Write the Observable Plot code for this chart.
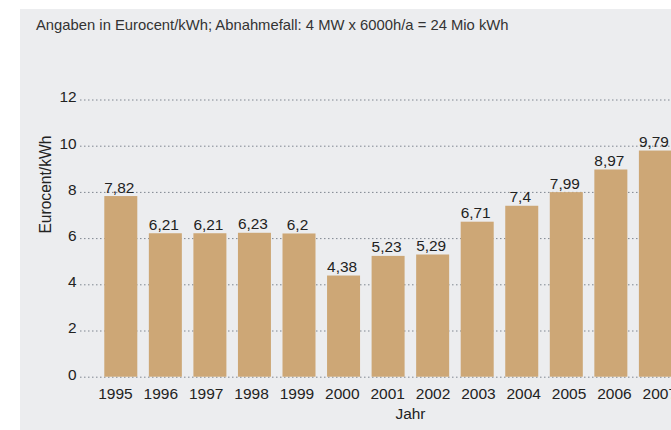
<!DOCTYPE html>
<html><head><meta charset="utf-8">
<script src="https://cdn.jsdelivr.net/npm/d3@7"></script>
<script src="https://cdn.jsdelivr.net/npm/@observablehq/plot@0.6"></script>
<style>
html,body{margin:0;padding:0;background:#fff;}
#wrap{position:relative;width:671px;height:430px;overflow:hidden;background:#fff;font-family:"Liberation Sans",Arial,sans-serif;}
#panel{position:absolute;left:20px;top:9px;right:0;bottom:0;background:#ecedef;}
#title{position:absolute;left:36px;top:18.2px;font-size:14.8px;line-height:14.8px;color:#333;white-space:nowrap;}
#chart,#ticks{position:absolute;left:0;top:0;}
</style></head><body>
<div id="wrap"><div id="panel"></div><div id="title"></div><div id="chart"></div><div id="ticks"></div></div>
<script>
const titleText = "Angaben in Eurocent/kWh; Abnahmefall: 4 MW x 6000h/a = 24 Mio kWh";
const years = ["1995","1996","1997","1998","1999","2000","2001","2002","2003","2004","2005","2006","2007"];
const values = [7.82, 6.21, 6.21, 6.23, 6.2, 4.38, 5.23, 5.29, 6.71, 7.4, 7.99, 8.97, 9.79];
const yTicks = [0, 2, 4, 6, 8, 10, 12];
const yLabel = "Eurocent/kWh";
const xLabel = "Jahr";

document.getElementById("title").textContent = titleText;

const data = years.map((y, i) => ({year: y, value: values[i], label: String(values[i]).replace(".", ",")}));
const svgStyle = "max-width:none;background:transparent;font-family:'Liberation Sans',Arial,sans-serif;color:#222;overflow:visible;";

const chart = Plot.plot({
  width: 760,
  height: 430,
  marginLeft: 80,
  marginRight: 20,
  marginTop: 99.5,
  marginBottom: 53.3,
  style: svgStyle,
  x: {type: "band", domain: years, range: [104.3, 671.9], paddingInner: 0.2593, paddingOuter: 0, align: 0.5, round: false, label: null, axis: null},
  y: {domain: [0, 12], label: null},
  marks: [
    Plot.ruleY(yTicks, {stroke: "#7f8690", strokeDasharray: "1.5,2.5", strokeWidth: 1}),
    Plot.barY(data, {x: "year", y: "value", fill: "#cda776"}),
    Plot.text(data, {x: "year", y: "value", text: "label", lineAnchor: "bottom", dx: -2, dy: -4, fontSize: 15.4, fill: "#222"}),
    Plot.axisY(yTicks, {tickSize: 0, tickPadding: 4, dy: -2.5, fontSize: 15.4, label: null}),
    Plot.text([yLabel], {frameAnchor: "left", dx: -35, dy: -5, rotate: -90, fontSize: 15.6, fill: "#222"}),
    Plot.text([xLabel], {frameAnchor: "bottom", dy: 42, fontSize: 15.4, fill: "#222"})
  ]
});
document.getElementById("chart").appendChild(chart);

// year tick labels (spaced slightly wider than the bars, as in the reference)
const ticks = Plot.plot({
  width: 760,
  height: 430,
  marginLeft: 80,
  marginRight: 20,
  marginTop: 99.5,
  marginBottom: 53.3,
  style: svgStyle,
  x: {type: "band", domain: years, range: [92.3, 682], padding: 0, round: false, label: null},
  y: {domain: [0, 12], axis: null},
  marks: [
    Plot.axisX({tickSize: 0, tickPadding: 10.5, fontSize: 15.5, label: null})
  ]
});
document.getElementById("ticks").appendChild(ticks);
</script>
</body></html>
